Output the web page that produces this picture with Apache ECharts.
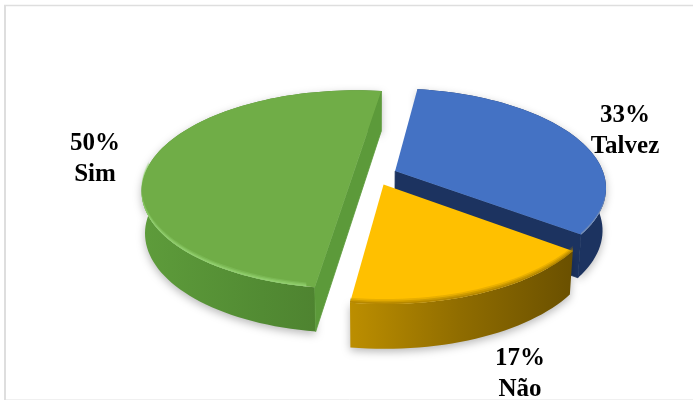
<!DOCTYPE html>
<html><head><meta charset="utf-8">
<style>html,body{margin:0;padding:0;background:#fff}#c{width:693px;height:400px}</style>
<script src="https://cdn.jsdelivr.net/npm/echarts@6/dist/echarts.min.js"></script>
</head><body><div id="c"></div>
<script>
const categories = ['Talvez', 'Não', 'Sim'];
const values = [33, 17, 50];

// projection and style settings (not data)
const view = {cx: 375, cy: 175, R: 209, Rk: 97, p: 0.16, H0: 29, H1: 13, startDeg: 8, explode: 0.105};
const looks = [
  {top: '#4472C4', rim: '#8A9BB5', rimFrom: 105, rimPx: 2, cut: '#1C3360', wall: '#1C3360', z: 1},
  {top: '#FFC000', rim: '#A67C00', rimFrom: 95, rimPx: 5, cut: '#8A6800', wall: ['#BC8E00', '#8F6C00', '#6A5000'], z: 3},
  {top: '#70AD47', rim: '#98D676', rimFrom: 190, rimPx: 4, cut: '#5C9A3A', wall: ['#5E9C3B', '#528B33', '#4A7A2D'], z: 2}
];
const labelSpots = [[625, 131], [520, 374], [95, 159]];

const LG = echarts.graphic.LinearGradient;
function paint(c) {
  if (typeof c === 'string') return c;
  const stops = c.map((color, i) => ({offset: i / (c.length - 1), color}));
  return new LG(0, 0, 1, 0, stops);
}
function project(u, v, low) {
  const s = 1 / (1 - view.p * v);
  const k = low ? 0.985 : 1;
  return [
    view.cx + view.R * u * s * k,
    view.cy + view.Rk * v * s + (low ? view.H0 + view.H1 * s : 0)
  ];
}
const total = values.reduce((a, b) => a + b, 0);
const spans = [];
values.reduce((acc, val) => {
  const a = acc, b = acc + val / total * 360;
  spans.push([a, b]);
  return b;
}, view.startDeg);

function renderItem(params, api) {
  const i = params.dataIndex;
  const look = looks[i];
  const [a, b] = spans[i];
  const mid = (a + b) / 2 * Math.PI / 180;
  const ou = view.explode * Math.sin(mid), ov = -view.explode * Math.cos(mid);
  const at = (deg, r) => {
    const t = deg * Math.PI / 180;
    return [ou + r * Math.sin(t), ov - r * Math.cos(t)];
  };
  const arc = (r, from, to, low) => {
    const pts = [], n = Math.max(8, Math.round(Math.abs(to - from) / 2));
    for (let j = 0; j <= n; j++) {
      const w = at(from + (to - from) * j / n, r);
      pts.push(project(w[0], w[1], low));
    }
    return pts;
  };
  const apex = project(ou, ov, false), apexLow = project(ou, ov, true);
  const children = [];
  const poly = (points, fill, extra) => children.push({
    type: 'polygon', z2: look.z * 10 + children.length,
    shape: {points}, style: Object.assign({fill}, extra || {})
  });
  // outer wall, with soft shadow
  poly(arc(1, a, b, false).concat(arc(1, b, a, true)), paint(look.wall), {
    shadowBlur: 9, shadowColor: 'rgba(0,0,0,0.28)', shadowOffsetY: 3
  });
  // cut faces that point toward the viewer (both ends at once when a slice is a half disc)
  const faces = [[a, -90], [b, 90]].filter(([edge, turn]) =>
    -Math.cos((edge + turn) * Math.PI / 180) > 0.02).map(([edge]) => at(edge, 1));
  const cutStyle = {stroke: look.cut, lineWidth: 0.8};
  if (faces.length === 2) {
    poly([project(faces[0][0], faces[0][1], false), project(faces[1][0], faces[1][1], false),
          project(faces[1][0], faces[1][1], true), project(faces[0][0], faces[0][1], true)], look.cut, cutStyle);
  } else if (faces.length === 1) {
    poly([apex, project(faces[0][0], faces[0][1], false),
          project(faces[0][0], faces[0][1], true), apexLow], look.cut, cutStyle);
  }
  // top face
  poly([apex].concat(arc(1, a, b, false)), look.top);
  // soft bevel along the front of the rim: stacked translucent bands, thin at the sides
  const front = [Math.max(a, look.rimFrom), Math.min(b, 275)];
  if (front[1] > front[0]) {
    const edge = arc(1, front[0], front[1], false);
    [[1, 0.25], [0.66, 0.4], [0.33, 0.6]].forEach(([f, opacity]) => {
      const inner = edge.map(p => [p[0], p[1] - look.rimPx * f]).reverse();
      poly(edge.concat(inner), look.rim, {opacity});
    });
  }
  // label
  children.push({
    type: 'text', z2: 100,
    style: {
      x: labelSpots[i][0], y: labelSpots[i][1],
      text: values[i] + '%\n' + categories[i],
      font: 'bold 25px "Liberation Serif"', lineHeight: 31,
      fill: '#000', align: 'center', verticalAlign: 'middle'
    }
  });
  return {type: 'group', children};
}

const chart = echarts.init(document.getElementById('c'), null, {renderer: 'canvas'});
chart.setOption({
  animation: false,
  backgroundColor: '#fff',
  graphic: [
    {type: 'line', shape: {x1: 4, y1: 5.5, x2: 693, y2: 5.5}, style: {stroke: '#DEDEDE', lineWidth: 1.5}},
    {type: 'line', shape: {x1: 5, y1: 5, x2: 5, y2: 400}, style: {stroke: '#DEDEDE', lineWidth: 2}},
    {type: 'line', shape: {x1: 6, y1: 399.5, x2: 693, y2: 399.5}, style: {stroke: '#F0F0F0', lineWidth: 1}}
  ],
  series: [{
    type: 'custom',
    coordinateSystem: 'none',
    renderItem,
    data: values.map((v, i) => ({name: categories[i], value: v}))
  }]
});
</script></body></html>
